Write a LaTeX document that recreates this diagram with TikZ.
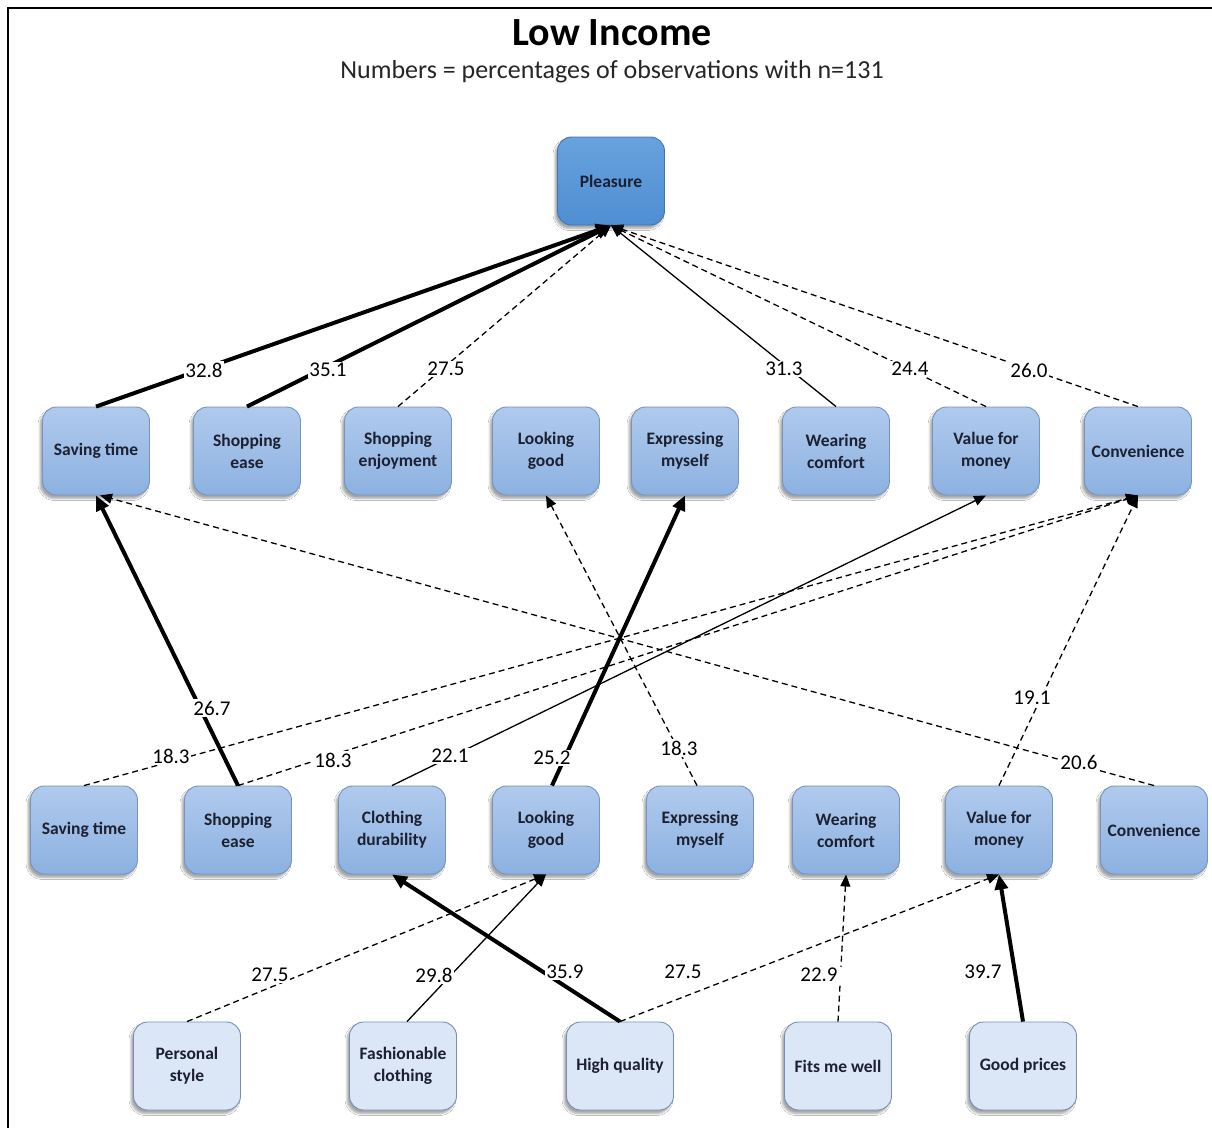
\documentclass[tikz,border=0pt]{standalone}
\usepackage{fontspec}
\setmainfont{Carlito}
\usetikzlibrary{arrows.meta,shadows.blur}

\definecolor{midtop}{RGB}{176,202,237}
\definecolor{midbot}{RGB}{140,177,225}
\definecolor{midline}{RGB}{118,148,192}
\definecolor{toptop}{RGB}{104,162,222}
\definecolor{topbot}{RGB}{78,142,210}
\definecolor{topline}{RGB}{66,116,176}
\definecolor{lightfill}{RGB}{219,231,247}
\definecolor{lightline}{RGB}{118,142,178}
\definecolor{boxtext}{RGB}{28,32,48}

\tikzset{
  box/.style={rounded corners=14pt, minimum width=107pt, minimum height=88pt,
    align=center, text=boxtext, line width=0.9pt,
    font=\fontsize{17.5}{22}\selectfont\bfseries,
    blur shadow={shadow xshift=-2.5pt, shadow yshift=-3.5pt, shadow opacity=35, shadow blur steps=6}},
  goalbox/.style={box, draw=topline, top color=toptop, bottom color=topbot},
  valbox/.style={box, draw=midline, top color=midtop, bottom color=midbot},
  attrbox/.style={box, draw=lightline, fill=lightfill},
  heavylink/.style={line width=4pt, -{Triangle[length=15pt,width=13pt]}},
  thinlink/.style={line width=1.3pt, -{Triangle[length=12pt,width=10pt]}},
  dashlink/.style={thinlink, dash pattern=on 6pt off 4pt},
  pct/.style={fill=white, inner sep=1.5pt, font=\fontsize{21}{21}\selectfont}
}

\begin{document}
\begin{tikzpicture}[x=1pt,y=-1pt]
\useasboundingbox (0,0) rectangle (1212,1128);
\fill[white] (0,0) rectangle (1212,1128);
% page frame
\draw[line width=2.5pt] (1212,8) -- (8,8) -- (8,1128);

% headings
\node (title) at (612,33) {\fontsize{40}{40}\selectfont\bfseries Low Income};
\node[text=black!85] (subtitle) at (612,72) {\fontsize{26}{26}\selectfont Numbers = percentages of observations with n=131};

% terminal value
\node[goalbox] (pleasure) at (611,181) {Pleasure};

% upper consequence row
\node[valbox] (u1) at (96,451) {Saving time};
\node[valbox] (u2) at (247,451) {Shopping\\ease};
\node[valbox] (u3) at (398,451) {Shopping\\enjoyment};
\node[valbox] (u4) at (546,451) {Looking\\good};
\node[valbox] (u5) at (685,451) {Expressing\\myself};
\node[valbox] (u6) at (836,451) {Wearing\\comfort};
\node[valbox] (u7) at (986,451) {Value for\\money};
\node[valbox] (u8) at (1138,451) {Convenience};

% lower consequence row
\node[valbox] (m1) at (84,830) {Saving time};
\node[valbox] (m2) at (238,830) {Shopping\\ease};
\node[valbox] (m3) at (392,830) {Clothing\\durability};
\node[valbox] (m4) at (546,830) {Looking\\good};
\node[valbox] (m5) at (700,830) {Expressing\\myself};
\node[valbox] (m6) at (846,830) {Wearing\\comfort};
\node[valbox] (m7) at (999,830) {Value for\\money};
\node[valbox] (m8) at (1154,830) {Convenience};

% attributes
\node[attrbox] (a1) at (187,1066) {Personal\\style};
\node[attrbox] (a2) at (403,1066) {Fashionable\\clothing};
\node[attrbox] (a3) at (620,1066) {High quality};
\node[attrbox] (a4) at (838,1066) {Fits me well};
\node[attrbox] (a5) at (1023,1066) {Good prices};

% links into Pleasure
\draw[heavylink] (u1.north) -- (pleasure.south);
\draw[heavylink] (u2.north) -- (pleasure.south);
\draw[dashlink]  (u3.north) -- (pleasure.south);
\draw[thinlink]  (u6.north) -- (pleasure.south);
\draw[dashlink]  (u7.north) -- (pleasure.south);
\draw[dashlink]  (u8.north) -- (pleasure.south);

% links between consequence rows
\draw[heavylink] (m2.north) -- (u1.south);
\draw[dashlink]  (m1.north) -- (u8.south);
\draw[dashlink]  (m2.north) -- (u8.south);
\draw[thinlink]  (m3.north) -- (u7.south);
\draw[heavylink] ([xshift=6pt]m4.north) -- (u5.south);
\draw[dashlink]  ([xshift=-3pt]m5.north) -- (u4.south);
\draw[dashlink]  (m8.north) -- ([xshift=4pt]u1.south);
\draw[dashlink]  (m7.north) -- (u8.south);

% links from attributes
\draw[dashlink]  (a1.north) -- (m4.south);
\draw[thinlink]  ([xshift=4pt]a2.north) -- (m4.south);
\draw[heavylink] (a3.north) -- (m3.south);
\draw[dashlink]  (a3.north) -- (m7.south);
\draw[dashlink]  (a4.north) -- (m6.south);
\draw[heavylink] (a5.north) -- (m7.south);

% percentages
\node[pct] (p1) at (204,370) {32.8};
\node[pct] (p2) at (328,370) {35.1};
\node[pct] (p3) at (446,369) {27.5};
\node[pct] (p4) at (784,369) {31.3};
\node[pct] (p5) at (910,369) {24.4};
\node[pct] (p6) at (1029,370) {26.0};

\node[pct] (q1) at (212,708) {26.7};
\node[pct] (q2) at (171,756) {18.3};
\node[pct] (q3) at (333,760) {18.3};
\node[pct] (q4) at (450,756) {22.1};
\node[pct] (q5) at (552,758) {25.2};
\node[pct] (q6) at (679,748) {18.3};
\node[pct] (q7) at (1079,762) {20.6};
\node[pct] (q8) at (1032,698) {19.1};

\node[pct] (r1) at (270,975) {27.5};
\node[pct] (r2) at (434,975) {29.8};
\node[pct] (r3) at (565,972) {35.9};
\node[pct] (r4) at (683,972) {27.5};
\node[pct, inner xsep=7pt] (r5) at (819,975) {22.9};
\node[pct] (r6) at (983,972) {39.7};
\end{tikzpicture}
\end{document}
